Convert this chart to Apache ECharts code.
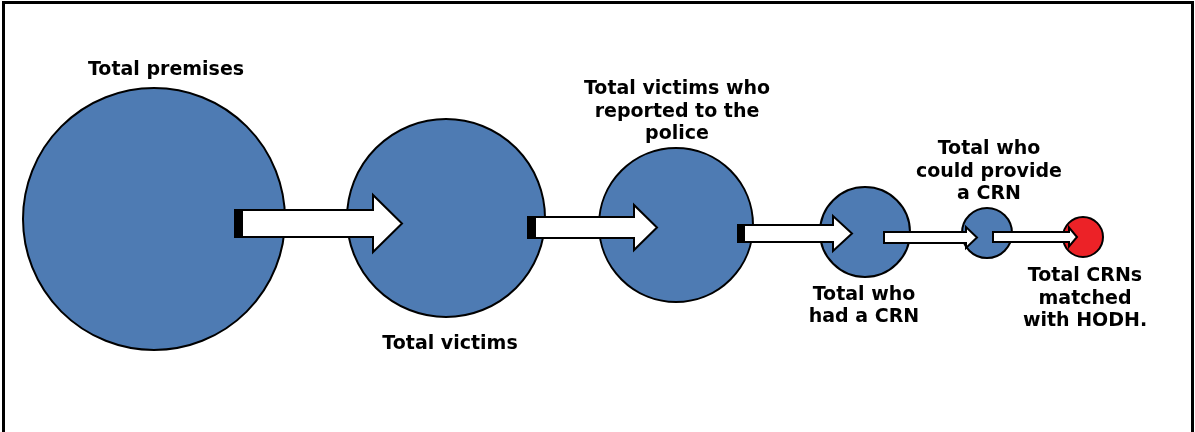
<!DOCTYPE html>
<html>
<head>
<meta charset="utf-8">
<script src="https://cdn.jsdelivr.net/npm/echarts@6/dist/echarts.min.js"></script>
<style>
  html, body { margin: 0; padding: 0; background: #fff; }
  #chart { width: 1195px; height: 432px; }
</style>
</head>
<body>
<div id="chart"></div>
<script>
// stages of the funnel, left to right
var stages = [
    'Total premises',
    'Total victims',
    'Total victims who\nreported to the\npolice',
    'Total who\nhad a CRN',
    'Total who\ncould provide\na CRN',
    'Total CRNs\nmatched\nwith HODH.'
];
// circle diameter for each stage
var diameters = [262, 198, 154, 90, 50, 40];

// layout (axis units = pixels of the canvas)
var centers = [[154, 219], [446, 218], [676, 225], [865, 232], [987, 233], [1083, 237]];
var labelPos = [[166, 70], [450, 344], [677, 112], [864, 306], [989, 172], [1085, 299]];
// x0, x1, yc, shaft height, head height, head length, black base width
var arrows = [
    [235, 402, 223.5, 27, 57, 29, 8],
    [528, 657, 227.5, 21, 45, 23, 8],
    [738, 852, 233.5, 17, 35, 19, 7],
    [884, 977, 237.5, 11, 21, 11, 0],
    [993, 1077, 237, 10, 19, 8, 0]
];

var BLUE = '#4E7BB3';
var RED = '#EC2227';

var dom = document.getElementById('chart');
var myChart = echarts.init(dom);

var circleData = stages.map(function (s, i) {
    return [centers[i][0], centers[i][1], diameters[i], i];
});
var labelData = stages.map(function (s, i) {
    return [labelPos[i][0], labelPos[i][1], i];
});

function renderCircle(params, api) {
    var c = api.coord([api.value(0), api.value(1)]);
    var s = api.size([api.value(2), api.value(2)]);
    var i = api.value(3);
    return {
        type: 'circle',
        shape: { cx: c[0], cy: c[1], r: s[0] / 2 },
        style: { fill: i === stages.length - 1 ? RED : BLUE, stroke: '#000', lineWidth: 2 }
    };
}

function renderArrow(params, api) {
    var a = arrows[params.dataIndex];
    var p0 = api.coord([a[0], a[2]]);
    var p1 = api.coord([a[1], a[2]]);
    var sh = a[3] / 2, hh = a[4] / 2, hl = a[5];
    var x0 = p0[0], x1 = p1[0], y = p0[1];
    var children = [{
        type: 'polygon',
        shape: {
            points: [
                [x0, y - sh], [x1 - hl, y - sh], [x1 - hl, y - hh], [x1, y],
                [x1 - hl, y + hh], [x1 - hl, y + sh], [x0, y + sh]
            ]
        },
        style: { fill: '#fff', stroke: '#000', lineWidth: 2, lineJoin: 'miter' }
    }];
    if (a[6] > 0) {
        children.push({
            type: 'rect',
            shape: { x: x0, y: y - sh, width: a[6], height: a[3] },
            style: { fill: '#000' }
        });
    }
    return { type: 'group', children: children };
}

function renderLabel(params, api) {
    var c = api.coord([api.value(0), api.value(1)]);
    return {
        type: 'text',
        x: c[0],
        y: c[1],
        style: {
            text: stages[api.value(2)],
            fill: '#000',
            fontFamily: 'DejaVu Sans',
            fontWeight: 'bold',
            fontSize: 19,
            lineHeight: 22.5,
            align: 'center',
            verticalAlign: 'middle'
        }
    };
}

var option = {
    animation: false,
    backgroundColor: '#fff',
    grid: { left: 0, right: 0, top: 0, bottom: 0 },
    xAxis: { type: 'value', min: 0, max: 1195, show: false },
    yAxis: { type: 'value', min: 0, max: 432, inverse: true, show: false },
    graphic: [{
        type: 'rect',
        shape: { x: 3.5, y: 2.5, width: 1189, height: 440 },
        style: { fill: 'none', stroke: '#000', lineWidth: 3 },
        silent: true
    }],
    series: [
        { type: 'custom', renderItem: renderCircle, data: circleData, z: 2 },
        { type: 'custom', renderItem: renderArrow, data: arrows, z: 3 },
        { type: 'custom', renderItem: renderLabel, data: labelData, z: 4 }
    ]
};

if (option && typeof option === "object") {
    myChart.setOption(option, true);
}
</script>
</body>
</html>
